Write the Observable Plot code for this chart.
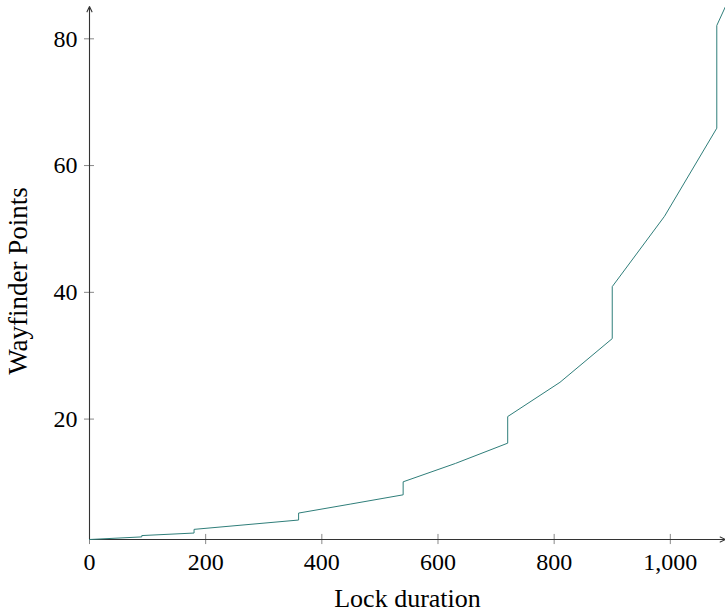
<!DOCTYPE html>
<html>
<head>
<meta charset="utf-8">
<script src="https://cdn.jsdelivr.net/npm/d3@7"></script>
<script src="https://cdn.jsdelivr.net/npm/@observablehq/plot@0.6"></script>
<style>
  html, body { margin: 0; padding: 0; background: #fff; }
  svg { display: block; }
</style>
</head>
<body>
<div id="chart"></div>
<script>
// Data
const duration = [0, 90, 90, 180, 180, 360, 360, 450, 540, 540, 630, 720, 720, 810, 900, 900, 990, 1080, 1080, 1095];
const points   = [1, 1.41, 1.62, 2.02, 2.6, 4.07, 5.17, 6.6, 8.05, 10.1, 13.0, 16.2, 20.4, 25.8, 32.7, 40.9, 52.0, 65.9, 82.1, 85.1];
const xTicks = [0, 200, 400, 600, 800, 1000];
const yTicks = [20, 40, 60, 80];
const xLabel = "Lock duration";
const yLabel = "Wayfinder Points";

const data = duration.map((d, i) => ({duration: d, points: points[i]}));
const [xMin, xMax] = d3.extent(duration);
const [yMin, yMax] = d3.extent(points);

const font = "'Liberation Serif', 'DejaVu Serif', serif";
const axisColor = "#333";
const tickColor = "#888";
const lineColor = "#2f7e7a";

const chart = Plot.plot({
  width: 725,
  height: 614,
  marginLeft: 89,
  marginRight: 0,
  marginTop: 6,
  marginBottom: 75,
  style: {fontFamily: font, fontSize: "24px", color: "#000", background: "#fff"},
  x: {domain: [xMin, xMax]},
  y: {domain: [yMin, yMax]},
  marks: [
    // tick marks crossing the axes
    Plot.ruleX(xTicks, {x: d => d, y1: yMin - 0.8, y2: yMin + 0.8, stroke: tickColor, strokeWidth: 1}),
    Plot.ruleY(yTicks, {y: d => d, x1: xMin - 8.6, x2: xMin + 8.6, stroke: tickColor, strokeWidth: 1}),
    // axis lines with arrows
    Plot.arrow([{a: xMin, b: yMin, c: xMax, d: yMin}], {x1: "a", y1: "b", x2: "c", y2: "d", stroke: axisColor, strokeWidth: 1.1, headLength: 8, headAngle: 50}),
    Plot.arrow([{a: xMin, b: yMin, c: xMin, d: yMax}], {x1: "a", y1: "b", x2: "c", y2: "d", stroke: axisColor, strokeWidth: 1.1, headLength: 8, headAngle: 50}),
    // tick labels
    Plot.axisX(xTicks, {tickSize: 0, tickPadding: 13, tickFormat: d3.format(","), label: null, fontSize: 24}),
    Plot.axisY(yTicks, {tickSize: 0, tickPadding: 12, label: null, fontSize: 24}),
    // the data line
    Plot.line(data, {x: "duration", y: "points", stroke: lineColor, strokeWidth: 1}),
    // axis titles
    Plot.text([xLabel], {frameAnchor: "bottom", textAnchor: "middle", lineAnchor: "middle", dy: 59, text: d => d, fontSize: 26, fill: "#000"}),
    Plot.text([yLabel], {frameAnchor: "left", textAnchor: "middle", lineAnchor: "middle", dx: -71, dy: 8, rotate: -90, text: d => d, fontSize: 27, fill: "#000"})
  ]
});
document.getElementById("chart").appendChild(chart);
</script>
</body>
</html>
